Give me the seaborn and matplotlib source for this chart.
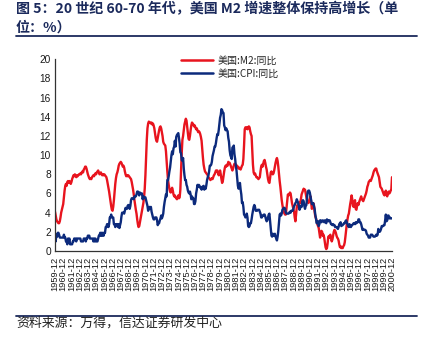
import matplotlib
matplotlib.use("Agg")
import matplotlib.pyplot as plt
from matplotlib.lines import Line2D
import seaborn as sns
import pandas as pd

# Monthly year-on-year growth (%), Dec 1959 first, then one row per calendar year 1960-2000
m2_yoy = [
    4.1,
    3.7, 3.3, 3.1, 3.0, 2.9, 2.9, 3.1, 3.5, 4.0, 4.3, 4.6, 4.9,
    5.6, 6.3, 6.8, 7.0, 6.8, 7.2, 7.3, 7.1, 7.3, 7.2, 7.0, 7.2,
    7.5, 7.7, 7.9, 7.8, 8.0, 7.8, 7.7, 7.9, 7.8, 7.9, 8.0, 8.0,
    8.1, 8.0, 8.2, 8.3, 8.2, 8.5, 8.6, 8.8, 8.8, 8.6, 8.3, 8.0,
    7.8, 7.6, 7.5, 7.6, 7.5, 7.7, 7.8, 7.9, 7.8, 8.0, 8.1, 8.0,
    8.2, 8.3, 8.4, 8.2, 8.0, 8.1, 8.2, 8.0, 7.9, 8.0, 7.9, 8.0,
    7.9, 7.8, 7.7, 7.4, 7.0, 6.6, 6.2, 5.7, 5.2, 4.7, 4.3, 4.2,
    4.6, 5.3, 6.2, 7.0, 7.6, 8.0, 8.2, 8.5, 8.9, 9.1, 9.2, 9.3,
    9.2, 9.0, 8.8, 8.9, 8.7, 8.3, 8.0, 7.8, 7.9, 7.8, 7.9, 7.8,
    7.7, 7.6, 7.5, 7.2, 6.8, 6.4, 5.9, 5.3, 4.8, 4.3, 3.9, 3.3,
    2.8, 2.5, 2.6, 3.0, 3.4, 3.8, 4.2, 4.6, 5.0, 5.6, 6.5, 7.9,
    9.8, 11.6, 12.8, 13.3, 13.5, 13.4, 13.4, 13.3, 13.4, 13.2, 13.3, 13.1,
    12.8, 12.3, 11.8, 11.5, 11.4, 11.8, 12.2, 12.6, 12.9, 13.0, 12.8, 12.4,
    12.0, 11.4, 11.2, 11.1, 11.0, 10.4, 9.3, 8.3, 7.4, 6.9, 6.5, 6.2,
    6.1, 6.4, 6.6, 6.3, 5.9, 5.7, 5.8, 5.6, 5.5, 5.4, 5.6, 5.8,
    5.5, 5.6, 6.4, 8.3, 10.2, 11.6, 12.0, 12.6, 13.2, 13.5, 13.8, 13.6,
    12.9, 12.3, 11.7, 11.6, 12.0, 12.6, 13.1, 13.4, 13.3, 13.2, 13.0, 13.1,
    12.9, 12.7, 12.8, 12.6, 12.4, 12.5, 12.4, 12.2, 11.9, 11.5, 10.6, 9.7,
    9.0, 8.6, 8.3, 8.2, 8.1, 8.0, 7.9, 7.7, 7.6, 7.5, 7.4, 7.5,
    7.6, 7.5, 7.7, 7.9, 8.0, 8.2, 8.4, 8.3, 8.4, 8.1, 7.9, 8.1,
    8.4, 8.0, 7.5, 7.1, 7.3, 7.8, 8.3, 8.7, 8.9, 8.8, 9.0, 8.9,
    9.3, 9.1, 9.2, 9.0, 8.8, 8.6, 8.4, 8.6, 8.9, 9.1, 9.1, 9.0,
    8.8, 8.9, 8.7, 8.6, 8.7, 8.6, 8.5, 8.7, 8.9, 9.0, 9.6, 11.0,
    12.7, 12.9, 12.8, 12.9, 12.7, 12.9, 13.0, 12.9, 12.5, 12.2, 12.0, 10.5,
    9.0, 8.2, 8.0, 8.1, 7.9, 7.7, 7.7, 7.6, 7.5, 7.6, 7.7, 8.3,
    8.8, 9.0, 8.8, 9.1, 9.4, 9.5, 9.2, 8.8, 8.5, 8.0, 7.5, 7.2,
    7.1, 7.6, 8.2, 8.3, 8.1, 8.0, 8.1, 8.4, 8.8, 9.2, 9.5, 9.7,
    9.4, 8.8, 8.0, 7.3, 6.7, 6.0, 5.3, 4.8, 4.4, 4.1, 3.9, 3.8,
    3.8, 4.5, 5.3, 5.9, 5.8, 5.9, 6.1, 6.0, 5.5, 5.0, 4.7, 4.4,
    4.1, 3.5, 3.1, 3.8, 4.6, 4.8, 4.6, 4.9, 5.1, 5.0, 5.4, 5.9,
    6.1, 6.3, 6.5, 6.4, 6.4, 6.0, 5.6, 5.3, 5.1, 5.0, 5.2, 5.5,
    5.7, 5.0, 4.4, 4.6, 5.0, 4.8, 4.1, 3.6, 3.4, 3.1, 2.8, 2.6,
    2.4, 1.9, 1.4, 1.8, 2.1, 2.0, 1.6, 1.7, 1.4, 0.9, 0.4, 0.2,
    0.3, 0.8, 1.5, 1.4, 1.6, 1.7, 1.3, 1.0, 1.2, 1.6, 2.0, 2.2,
    2.1, 1.9, 1.6, 1.4, 1.3, 1.1, 0.7, 0.4, 0.5, 0.3, 0.4, 0.3,
    0.5, 0.6, 0.9, 1.5, 2.2, 2.8, 3.3, 3.7, 3.9, 4.4, 4.9, 5.3,
    5.8, 5.4, 4.7, 4.6, 5.0, 5.3, 4.4, 4.3, 4.7, 5.0, 4.8, 5.1,
    5.3, 5.5, 5.7, 5.4, 5.3, 5.2, 5.4, 5.6, 5.8, 6.0, 6.3, 6.7,
    6.9, 7.2, 7.3, 7.4, 7.3, 7.5, 7.7, 7.9, 8.2, 8.4, 8.5, 8.6,
    8.6, 8.3, 8.1, 7.9, 7.7, 7.2, 6.7, 6.6, 6.5, 6.3, 6.1, 5.9,
    5.8, 6.1, 6.3, 5.9, 5.7, 6.0, 6.2, 6.0, 6.1, 6.3, 6.4, 7.7,
]

cpi_yoy = [
    1.5,
    1.0, 1.7, 1.5, 1.9, 1.9, 1.7, 1.4, 1.4, 1.4, 1.4, 1.4, 1.4,
    1.7, 1.4, 1.4, 1.0, 1.0, 0.7, 1.3, 1.0, 1.3, 0.7, 0.7, 0.7,
    0.7, 1.0, 1.0, 1.3, 1.3, 1.3, 1.0, 1.3, 1.3, 1.3, 1.3, 1.3,
    1.3, 1.0, 1.0, 1.0, 1.0, 1.3, 1.3, 1.3, 1.0, 1.3, 1.3, 1.6,
    1.6, 1.6, 1.3, 1.3, 1.3, 1.3, 1.3, 1.0, 1.3, 1.0, 1.3, 1.0,
    1.0, 1.0, 1.3, 1.6, 1.6, 1.9, 1.6, 1.9, 1.6, 1.9, 1.6, 1.9,
    1.9, 2.5, 2.5, 2.8, 2.8, 2.5, 2.8, 3.5, 3.5, 3.8, 3.5, 3.5,
    3.5, 2.8, 2.8, 2.5, 2.8, 2.8, 2.8, 2.5, 2.8, 2.4, 2.7, 3.0,
    3.6, 4.0, 4.0, 4.0, 3.9, 4.2, 4.5, 4.4, 4.4, 4.7, 4.8, 4.7,
    4.4, 4.7, 5.3, 5.5, 5.5, 5.5, 5.4, 5.7, 5.7, 5.7, 5.9, 6.2,
    6.2, 6.1, 5.8, 6.1, 6.0, 6.0, 6.0, 5.4, 5.7, 5.6, 5.6, 5.6,
    5.3, 5.0, 4.7, 4.2, 4.4, 4.6, 4.4, 4.6, 4.1, 3.8, 3.5, 3.3,
    3.3, 3.5, 3.5, 3.5, 3.2, 2.7, 2.9, 2.9, 3.2, 3.4, 3.7, 3.4,
    3.6, 3.9, 4.6, 5.1, 5.5, 5.9, 5.7, 7.4, 7.4, 7.8, 8.3, 8.7,
    9.4, 10.0, 10.4, 10.1, 10.7, 10.9, 11.5, 10.9, 11.9, 12.1, 12.2, 12.3,
    11.8, 11.2, 10.3, 10.2, 9.5, 9.4, 9.7, 8.6, 7.9, 7.4, 7.4, 6.9,
    6.7, 6.3, 6.1, 6.0, 6.2, 5.9, 5.4, 5.7, 5.5, 5.5, 4.9, 4.9,
    5.2, 6.0, 6.4, 6.9, 6.7, 6.9, 6.8, 6.6, 6.6, 6.4, 6.7, 6.7,
    6.8, 6.4, 6.6, 6.5, 6.9, 7.4, 7.7, 7.9, 8.3, 8.9, 8.9, 9.0,
    9.3, 9.9, 10.2, 10.5, 10.9, 10.9, 11.3, 11.8, 12.2, 12.1, 12.6, 13.3,
    13.9, 14.2, 14.8, 14.7, 14.4, 14.4, 13.1, 12.9, 12.6, 12.8, 12.6, 12.5,
    11.8, 11.4, 10.5, 10.0, 9.8, 9.6, 10.8, 10.8, 11.0, 10.1, 9.6, 8.9,
    8.4, 7.6, 6.8, 6.5, 6.7, 7.1, 6.4, 5.9, 5.0, 5.1, 4.6, 3.8,
    3.7, 3.5, 3.6, 3.9, 3.5, 2.6, 2.5, 2.6, 2.9, 2.9, 3.3, 3.8,
    4.2, 4.6, 4.8, 4.6, 4.2, 4.2, 4.2, 4.3, 4.3, 4.3, 4.1, 3.9,
    3.5, 3.5, 3.7, 3.7, 3.8, 3.8, 3.6, 3.3, 3.1, 3.2, 3.5, 3.8,
    3.9, 3.1, 2.2, 1.6, 1.5, 1.8, 1.6, 1.6, 1.8, 1.5, 1.3, 1.1,
    1.5, 2.1, 3.0, 3.8, 3.9, 3.7, 3.9, 4.3, 4.4, 4.5, 4.5, 4.4,
    4.0, 3.9, 3.9, 3.9, 3.9, 4.0, 4.1, 4.0, 4.2, 4.2, 4.2, 4.4,
    4.7, 4.8, 5.0, 5.1, 5.4, 5.2, 5.0, 4.7, 4.3, 4.5, 4.7, 4.6,
    5.2, 5.3, 5.2, 4.7, 4.4, 4.7, 4.8, 5.6, 6.2, 6.3, 6.3, 6.1,
    5.7, 5.3, 4.9, 4.9, 5.0, 4.7, 4.4, 3.8, 3.4, 2.9, 3.0, 3.1,
    2.6, 2.8, 3.2, 3.2, 3.0, 3.1, 3.2, 3.1, 3.0, 3.2, 3.0, 2.9,
    3.3, 3.2, 3.1, 3.2, 3.2, 3.0, 2.8, 2.8, 2.7, 2.8, 2.7, 2.7,
    2.5, 2.5, 2.5, 2.4, 2.3, 2.5, 2.8, 2.9, 3.0, 2.6, 2.7, 2.7,
    2.8, 2.9, 2.9, 3.1, 3.2, 3.0, 2.8, 2.6, 2.5, 2.8, 2.6, 2.5,
    2.7, 2.7, 2.8, 2.9, 2.9, 2.8, 3.0, 2.9, 3.0, 3.0, 3.3, 3.3,
    3.0, 3.0, 2.8, 2.5, 2.2, 2.3, 2.2, 2.2, 2.2, 2.1, 1.8, 1.7,
    1.6, 1.4, 1.4, 1.4, 1.7, 1.7, 1.7, 1.6, 1.5, 1.5, 1.5, 1.6,
    1.7, 1.6, 1.7, 2.3, 2.1, 2.0, 2.1, 2.3, 2.6, 2.6, 2.6, 2.7,
    2.7, 3.2, 3.8, 3.1, 3.2, 3.7, 3.7, 3.4, 3.5, 3.4, 3.4, 3.4,
]

series_names = ["美国:M2:同比", "美国:CPI:同比"]
series_colors = ["#E8141E", "#0C2A7C"]
y_ticks = list(range(0, 21, 2))

months = pd.period_range("1959-12", "2000-12", freq="M")
tick_idx = list(range(0, len(months), 12))
tick_labels = [months[i].strftime("%Y-%m") for i in tick_idx]

df = pd.DataFrame({"idx": range(len(months)), series_names[0]: m2_yoy, series_names[1]: cpi_yoy})
long_df = df.melt(id_vars="idx", var_name="series", value_name="yoy")

sns.set_theme(style="white")
plt.rcParams["font.family"] = ["Liberation Sans", "Noto Sans CJK SC", "DejaVu Sans"]

fig = plt.figure(figsize=(4.21, 3.40), dpi=100)
ax = fig.add_axes([55 / 421, 1 - 251 / 340, 337 / 421, 191.7 / 340])

sns.lineplot(data=long_df, x="idx", y="yoy", hue="series", hue_order=series_names,
             palette=series_colors, linewidth=1.7, ax=ax, legend=False)

ax.set_xlim(0, len(months) - 1)
ax.set_ylim(0, 20)
ax.set_yticks(y_ticks)
ax.set_yticklabels([str(v) for v in y_ticks], fontsize=7.3, color="#1a1a1a")
ax.set_xticks(tick_idx)
ax.set_xticklabels(tick_labels, rotation=90, fontsize=6.7, color="#1a1a1a")
ax.set_xlabel("")
ax.set_ylabel("")
ax.tick_params(axis="both", direction="in", length=3, width=0.8, color="#333333", pad=3)
ax.tick_params(axis="x", pad=4)
for side in ("top", "right"):
    ax.spines[side].set_visible(False)
for side in ("left", "bottom"):
    ax.spines[side].set_color("#333333")
    ax.spines[side].set_linewidth(0.9)

handles = [Line2D([0], [0], color=c, lw=1.8) for c in series_colors]
ax.legend(handles, series_names, loc="upper left", bbox_to_anchor=(0.375, 1.02),
          frameon=False, handlelength=3.2, handletextpad=0.4,
          labelspacing=0.3, borderpad=0, borderaxespad=0,
          prop={"family": ["Noto Sans CJK SC"], "size": 7.2})

navy = "#1B2A5C"
cjk = ["Noto Sans CJK SC", "DejaVu Sans"]
fig.text(16 / 421, 1 - 9.5 / 340, "图 5：20 世纪 60-70 年代，美国 M2 增速整体保持高增长（单",
         fontsize=10.1, fontweight="bold", color=navy, family=cjk, va="center", ha="left")
fig.text(16 / 421, 1 - 27.5 / 340, "位：%）",
         fontsize=10.1, fontweight="bold", color=navy, family=cjk, va="center", ha="left")
fig.add_artist(Line2D([16 / 421, 417 / 421], [1 - 36 / 340, 1 - 36 / 340],
                      color=navy, lw=1.3, transform=fig.transFigure))
fig.add_artist(Line2D([16 / 421, 417 / 421], [1 - 316 / 340, 1 - 316 / 340],
                      color=navy, lw=1.3, transform=fig.transFigure))
fig.text(16 / 421, 1 - 323 / 340, "资料来源：万得，信达证券研发中心",
         fontsize=9.3, color="#222222", family=cjk, va="center", ha="left", style="italic")

fig.savefig("out.png", dpi=100)
